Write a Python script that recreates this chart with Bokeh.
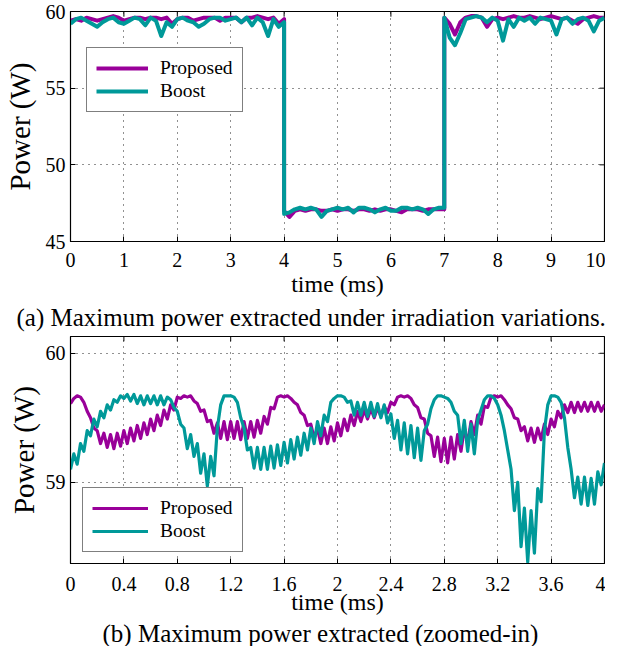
import numpy as np
from bokeh.plotting import figure
from bokeh.models import (Range1d, FixedTicker, Legend, LegendItem,
                          Title, CustomJSTickFormatter)
from bokeh.layouts import column
from bokeh.embed import file_html
from bokeh.resources import INLINE

FONT = "Liberation Serif"
PURPLE = "#990099"
TEAL = "#009999"

# ---------------- (a) full run, 0-10 ms, samples every 0.1 ms ----------------
# segment A: 0.0 .. 4.0 ms (high irradiation)
prop_a = [59.4, 59.5, 59.4, 59.6, 59.5, 59.4, 59.5, 59.6, 59.7, 59.6,
          59.4, 59.5, 59.6, 59.6, 59.5, 59.6, 59.6, 59.5, 59.6, 59.2,
          59.5, 59.6, 59.6, 59.4, 59.5, 59.6, 59.6, 59.6, 59.4, 59.6,
          59.6, 59.6, 59.3, 59.6, 59.6, 59.7, 59.6, 59.5, 59.6, 59.2,
          59.5]
boost_a = [59.2, 59.5, 59.6, 59.4, 59.2, 59.0, 59.3, 59.5, 59.6, 59.3,
           59.2, 59.4, 59.6, 59.5, 59.1, 59.6, 59.4, 58.4, 59.3, 59.0,
           59.5, 59.6, 59.4, 59.3, 59.0, 59.2, 59.5, 59.6, 59.6, 59.4,
           59.5, 59.6, 59.3, 59.6, 59.1, 59.6, 59.3, 58.4, 59.5, 59.0,
           59.3]
# segment B: 4.0 .. 7.0 ms (low irradiation)
prop_b = [47.0, 46.6, 47.0, 47.1, 47.0, 47.1, 47.1, 47.0, 47.0, 47.1,
          47.0, 47.1, 47.1, 47.0, 47.1, 47.1, 47.0, 47.1, 47.0, 47.1,
          47.1, 47.0, 46.9, 47.1, 47.1, 47.1, 47.0, 47.1, 47.1, 47.1,
          47.1]
boost_b = [46.8, 46.9, 47.1, 47.2, 47.1, 47.2, 47.1, 46.6, 47.0, 47.1,
           47.2, 47.1, 47.2, 46.9, 47.2, 47.2, 47.1, 46.9, 47.1, 47.2,
           47.0, 47.0, 47.2, 47.2, 47.1, 47.2, 47.1, 46.8, 47.1, 47.2,
           47.2]
# segment C: 7.0 .. 10.0 ms (high irradiation again)
prop_c = [59.6, 59.2, 58.5, 59.3, 59.6, 59.7, 59.7, 59.6, 59.0, 59.5,
          59.6, 59.5, 59.6, 59.7, 59.6, 59.6, 59.7, 59.6, 59.5, 59.6,
          59.7, 59.6, 59.5, 59.6, 59.4, 59.2, 59.5, 59.6, 59.7, 59.6,
          59.6]
boost_c = [59.6, 58.3, 57.8, 58.6, 59.5, 59.6, 59.7, 59.6, 59.3, 59.6,
           59.4, 58.1, 59.5, 59.0, 59.6, 59.4, 59.6, 59.2, 59.6, 59.5,
           59.4, 58.5, 59.5, 59.6, 59.2, 59.5, 59.6, 59.4, 58.7, 59.4,
           59.6]
seg_starts = [0.0, 4.0, 7.0]
step_a = 0.1

# ---------------- (b) zoomed-in, 0-4 ms, samples every 0.025 ms ----------------
prop_zoom = [
    59.61, 59.65, 59.67, 59.66, 59.62, 59.55, 59.50, 59.42, 59.40, 59.30,
    59.38, 59.27, 59.37, 59.26, 59.38, 59.28, 59.40, 59.30, 59.42, 59.32,
    59.44, 59.34, 59.46, 59.37, 59.49, 59.40, 59.52, 59.44, 59.56, 59.49,
    59.60, 59.56, 59.66, 59.65, 59.67, 59.66, 59.67, 59.63, 59.61, 59.55,
    59.56, 59.47, 59.48, 59.38, 59.46, 59.34, 59.47, 59.33, 59.47, 59.34,
    59.47, 59.33, 59.47, 59.34, 59.47, 59.35, 59.48, 59.38, 59.51, 59.45,
    59.58, 59.57, 59.66, 59.67, 59.66, 59.67, 59.65, 59.62, 59.60, 59.54,
    59.52, 59.44, 59.45, 59.34, 59.42, 59.30, 59.42, 59.30, 59.43, 59.32,
    59.46, 59.36, 59.49, 59.40, 59.52, 59.44, 59.55, 59.47, 59.56, 59.49,
    59.57, 59.50, 59.58, 59.51, 59.59, 59.54, 59.62, 59.60, 59.66, 59.67,
    59.66, 59.67, 59.65, 59.60, 59.58, 59.50, 59.49, 59.38, 59.36, 59.20,
    59.35, 59.16, 59.34, 59.15, 59.35, 59.18, 59.37, 59.24, 59.42, 59.30,
    59.47, 59.37, 59.52, 59.45, 59.59, 59.58, 59.66, 59.67, 59.66, 59.67,
    59.64, 59.60, 59.57, 59.50, 59.49, 59.40, 59.43, 59.32, 59.42, 59.31,
    59.42, 59.33, 59.45, 59.37, 59.49, 59.43, 59.55, 59.50, 59.60, 59.54,
    59.62, 59.54, 59.62, 59.55, 59.62, 59.55, 59.62, 59.55, 59.62, 59.55,
    59.60]
boost_zoom = [
    59.10, 59.22, 59.14, 59.30, 59.24, 59.40, 59.36, 59.49, 59.43, 59.55,
    59.50, 59.60, 59.56, 59.64, 59.62, 59.67, 59.65, 59.68, 59.63, 59.68,
    59.61, 59.67, 59.60, 59.67, 59.61, 59.67, 59.60, 59.67, 59.60, 59.66,
    59.64, 59.58, 59.55, 59.45, 59.42, 59.26, 59.37, 59.20, 59.30, 59.07,
    59.22, 58.97, 59.20, 59.05, 59.42, 59.60, 59.67, 59.67, 59.67, 59.66,
    59.62, 59.50, 59.42, 59.25, 59.27, 59.11, 59.27, 59.10, 59.27, 59.10,
    59.28, 59.11, 59.29, 59.13, 59.31, 59.15, 59.33, 59.18, 59.35, 59.21,
    59.38, 59.25, 59.42, 59.30, 59.47, 59.36, 59.52, 59.47, 59.62, 59.65,
    59.67, 59.67, 59.66, 59.62, 59.63, 59.52, 59.62, 59.52, 59.62, 59.51,
    59.62, 59.51, 59.61, 59.50, 59.60, 59.46, 59.53, 59.34, 59.48, 59.25,
    59.46, 59.22, 59.44, 59.19, 59.42, 59.17, 59.40, 59.45, 59.57, 59.64,
    59.67, 59.67, 59.66, 59.65, 59.62, 59.55, 59.52, 59.30, 59.48, 59.24,
    59.45, 59.22, 59.48, 59.56, 59.64, 59.67, 59.67, 59.65, 59.60, 59.52,
    59.40, 59.25, 59.10, 58.78, 59.00, 58.50, 58.80, 58.38, 58.78, 58.45,
    58.95, 58.85, 59.40, 59.60, 59.67, 59.67, 59.66, 59.62, 59.50, 59.27,
    59.10, 58.88, 59.04, 58.83, 59.04, 58.82, 59.03, 58.83, 59.08, 58.98,
    59.15]
step_b = 0.025

xticks_a = [0, 1, 2, 3, 4, 5, 6, 7, 8, 9, 10]
yticks_a = [45, 50, 55, 60]
xticks_b = [0, 0.4, 0.8, 1.2, 1.6, 2, 2.4, 2.8, 3.2, 3.6, 4]
yticks_b = [59, 60]

series_names = ["Proposed", "Boost"]
captions = ["(a) Maximum power extracted under irradiation variations.",
            "(b) Maximum power extracted (zoomed-in)"]

# sample times
t_a = np.concatenate([s + step_a * np.arange(len(seg)) for s, seg in
                      zip(seg_starts, [prop_a, prop_b, prop_c])])
prop_full = prop_a + prop_b + prop_c
boost_full = boost_a + boost_b + boost_c
t_b = step_b * np.arange(len(prop_zoom))

fmt = CustomJSTickFormatter(code="return String(tick)")


def make_fig(x_rng, y_rng, xt, yt, height, borders, frame_px, caption, stand, cap_off):
    p = figure(width=605, height=height, x_range=Range1d(*x_rng), y_range=Range1d(*y_rng),
               output_backend="svg", toolbar_location=None, title=None,
               min_border_left=borders[0], min_border_right=borders[1],
               min_border_top=borders[2], min_border_bottom=borders[3])
    p.background_fill_color = "white"
    p.outline_line_color = "black"
    p.outline_line_width = 1.2
    p.xaxis.ticker = FixedTicker(ticks=xt)
    p.yaxis.ticker = FixedTicker(ticks=yt)
    p.xaxis.formatter = fmt
    p.yaxis.formatter = fmt
    p.xgrid.ticker = FixedTicker(ticks=xt)
    p.ygrid.ticker = FixedTicker(ticks=yt)
    for g in (p.xgrid, p.ygrid):
        g.grid_line_color = "#222222"
        g.grid_line_dash = "1 5"
        g.grid_line_width = 1
    for ax in (p.xaxis[0], p.yaxis[0]):
        ax.major_tick_in = 5
        ax.major_tick_out = 0
        ax.minor_tick_line_color = None
        ax.axis_line_color = "black"
        ax.major_tick_line_color = "black"
        ax.major_label_text_font = FONT
        ax.major_label_text_font_size = "20px"
        ax.major_label_text_color = "black"
        ax.axis_label_text_font = FONT
        ax.axis_label_text_font_style = "normal"
        ax.axis_label_text_color = "black"
    p.xaxis.axis_label = "time (ms)"
    p.xaxis.axis_label_text_font_size = "24px"
    p.xaxis.major_label_standoff = stand[0]
    p.xaxis.axis_label_standoff = stand[1]
    p.yaxis.axis_label = "Power (W)"
    p.yaxis.axis_label_text_font_size = "29px"
    p.yaxis.major_label_standoff = 5
    p.yaxis.axis_label_standoff = stand[2]
    # mirror tick marks on the top and right frame edges (MATLAB box style)
    tx = (x_rng[1] - x_rng[0]) * 5.0 / frame_px[0]
    ty = (y_rng[1] - y_rng[0]) * 5.0 / frame_px[1]
    p.segment(x0=xt, y0=[y_rng[1]] * len(xt), x1=xt, y1=[y_rng[1] - ty] * len(xt),
              line_color="black", line_width=1)
    p.segment(x0=[x_rng[1]] * len(yt), y0=yt, x1=[x_rng[1] - tx] * len(yt), y1=yt,
              line_color="black", line_width=1)
    cap = Title(text=caption, align="left", text_font=FONT, text_font_size="25px",
                text_font_style="normal", text_color="black", standoff=stand[3],
                offset=cap_off)
    p.add_layout(cap, "below")
    return p


# ---- figure (a)
pa = make_fig((0, 10), (45, 60), xticks_a, yticks_a, 332, (64, 1, 11, 0), (540, 222),
              captions[0], (11, 1, 7, 4), -54)
ra = pa.line(t_a, prop_full, line_color=PURPLE, line_width=4, line_join="round")
rb = pa.line(t_a, boost_full, line_color=TEAL, line_width=4, line_join="round")
leg_a = Legend(items=[LegendItem(label=series_names[0], renderers=[ra]),
                      LegendItem(label=series_names[1], renderers=[rb])],
               location=(16, 129))

# ---- figure (b)
pb = make_fig((0, 4), (58.37, 60.13), xticks_b, yticks_b, 314, (60, 1, 4, 0), (544, 235),
              captions[1], (13, -5, 3, 0), 32)
rc = pb.line(t_b, prop_zoom, line_color=PURPLE, line_width=3.2, line_join="round")
rd = pb.line(t_b, boost_zoom, line_color=TEAL, line_width=3.2, line_join="round")
leg_b = Legend(items=[LegendItem(label=series_names[0], renderers=[rc]),
                      LegendItem(label=series_names[1], renderers=[rd])],
               location=(12, 11))

for leg, gw in ((leg_a, 52), (leg_b, 56)):
    leg.border_line_color = "black"
    leg.border_line_width = 1.2
    leg.background_fill_color = "white"
    leg.background_fill_alpha = 1
    leg.label_text_font = FONT
    leg.label_text_font_size = "19.5px"
    leg.label_text_color = "black"
    leg.glyph_width = gw
    leg.glyph_height = 22
    leg.label_height = 22
    leg.label_standoff = 12
    leg.padding = 9
    leg.spacing = 1
    leg.margin = 0

pa.add_layout(leg_a, "center")
pb.add_layout(leg_b, "center")

layout = column(pa, pb, spacing=0)
open("out.html", "w").write(file_html(layout, INLINE))
